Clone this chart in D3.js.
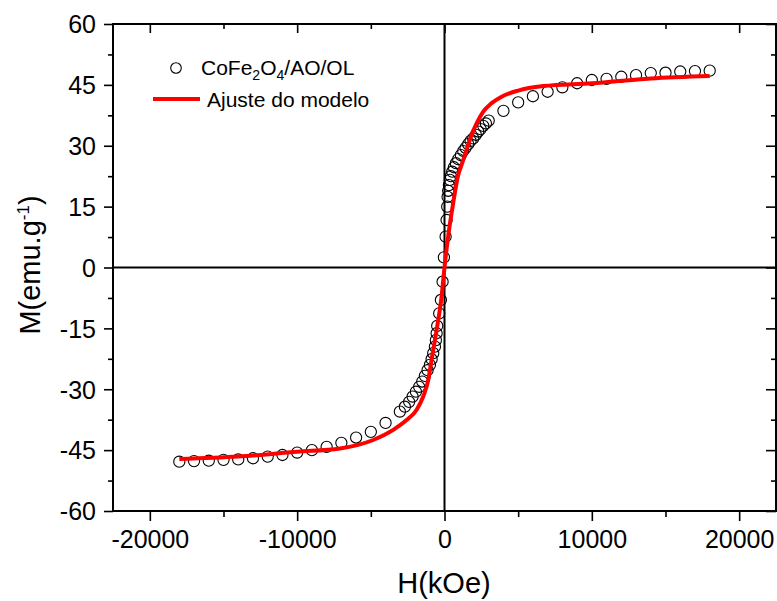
<!DOCTYPE html>
<html>
<head>
<meta charset="utf-8">
<script src="https://cdn.jsdelivr.net/npm/d3@7"></script>
<style>
  html, body { margin: 0; padding: 0; background: #fff; }
  svg { display: block; font-family: "Liberation Sans", Arial, sans-serif; }
</style>
</head>
<body>
<svg id="chart" width="777" height="601"></svg>
<script>
// ---- data ----
const dataH = [-18000,-17000,-16000,-15000,-14000,-13000,-12000,-11000,-10000,-9000,-8000,-7000,-6000,-5000,-4000,
  -3030,-2690,-2400,-2165,-1940,-1720,-1510,-1330,-1150,-990,-875,-765,-650,-585,-535,-495,-360,-245,-130,-40,
  75,140,185,210,250,300,367,435,525,640,775,930,1110,1270,1430,1610,1770,1950,2130,2290,2450,2630,2810,3000,
  4000,5000,6000,7000,8000,9000,10000,11000,12000,13000,14000,15000,16000,17000,18000];
const dataM = [-47.85,-47.7,-47.6,-47.4,-47.3,-47.0,-46.6,-46.2,-45.6,-45.0,-44.2,-43.2,-41.9,-40.5,-38.3,
  -35.5,-34.3,-33.1,-31.8,-30.6,-29.4,-28.1,-26.7,-25.3,-24.0,-22.6,-21.1,-19.5,-17.9,-16.2,-14.4,-11.3,-8.0,-3.5,2.5,
  7.6,11.7,15.0,17.4,18.9,20.3,21.6,22.5,23.6,24.7,25.7,26.7,27.7,28.7,29.5,30.4,31.2,31.8,32.7,33.5,34.1,34.9,35.5,36.2,
  38.6,40.7,42.2,43.3,44.4,45.4,46.2,46.5,47.0,47.4,47.9,48.0,48.3,48.4,48.5];

const fitH = [-18000,-14000,-10000,-7100,-4840,-3480,-2575,-1900,-1445,-1100,-880,-535,-200,0,
  250,590,930,1160,1500,1840,2180,2630,3200,3875,5000,6700,10000,14000,18000];
const fitM = [-47.2,-46.6,-45.4,-44.6,-42.5,-40.0,-37.6,-35.1,-31.8,-27.7,-22.8,-15.4,-7.2,0,
  7.7,15.9,22.8,25.3,29.0,32.7,35.5,38.4,40.5,42.1,43.6,44.7,45.4,46.6,47.2];

const xTicks = [-20000,-10000,0,10000,20000];
const yTicks = [-60,-45,-30,-15,0,15,30,45,60];
const xTitle = "H(kOe)";
const fitName = "Ajuste do modelo";

// ---- layout ----
const svg = d3.select("#chart");
const L = 113, R = 776, T = 24, B = 511;
const x = d3.scaleLinear().domain([-22500, 22500]).range([L, R]);
const y = d3.scaleLinear().domain([-60, 60]).range([B, T]);

const xMinor = d3.range(-20000, 20001, 5000).filter(v => !xTicks.includes(v));
const yMinor = d3.range(-52.5, 53, 15);

function styleAxis(g) {
  g.select(".domain").remove();
  g.selectAll(".tick line").attr("stroke", "#000").attr("stroke-width", 1.6);
  g.selectAll(".tick text").attr("fill", "#000").style("font-size", "25px")
    .style("font-family", '"Liberation Sans", Arial, sans-serif');
}

// bottom
const gB = svg.append("g").attr("transform", `translate(0,${B})`)
  .call(d3.axisBottom(x).tickValues(xTicks).tickSize(10).tickPadding(9).tickFormat(d3.format("d")));
styleAxis(gB);
const gBm = svg.append("g").attr("transform", `translate(0,${B})`)
  .call(d3.axisBottom(x).tickValues(xMinor).tickSize(6).tickFormat(""));
styleAxis(gBm);
// top (inward)
const gT = svg.append("g").attr("transform", `translate(0,${T})`)
  .call(d3.axisTop(x).tickValues(xTicks).tickSize(-9).tickFormat(""));
styleAxis(gT);
const gTm = svg.append("g").attr("transform", `translate(0,${T})`)
  .call(d3.axisTop(x).tickValues(xMinor).tickSize(-5).tickFormat(""));
styleAxis(gTm);
// left
const gL = svg.append("g").attr("transform", `translate(${L},0)`)
  .call(d3.axisLeft(y).tickValues(yTicks).tickSize(9).tickPadding(8).tickFormat(d3.format("d")));
styleAxis(gL);
gL.selectAll(".tick text").attr("dy", "0.35em");
const gLm = svg.append("g").attr("transform", `translate(${L},0)`)
  .call(d3.axisLeft(y).tickValues(yMinor).tickSize(5).tickFormat(""));
styleAxis(gLm);
// right (inward)
const gR = svg.append("g").attr("transform", `translate(${R},0)`)
  .call(d3.axisRight(y).tickValues(yTicks).tickSize(-10).tickFormat(""));
styleAxis(gR);
const gRm = svg.append("g").attr("transform", `translate(${R},0)`)
  .call(d3.axisRight(y).tickValues(yMinor).tickSize(-5).tickFormat(""));
styleAxis(gRm);

// hyphen minus like the reference
svg.selectAll(".tick text").text(function() { return d3.select(this).text().replace("−", "-"); });

// frame
svg.append("rect").attr("x", L).attr("y", T).attr("width", R - L).attr("height", B - T)
  .attr("fill", "none").attr("stroke", "#000").attr("stroke-width", 2);

// zero lines
svg.append("line").attr("x1", x(0)).attr("x2", x(0)).attr("y1", T).attr("y2", B)
  .attr("stroke", "#000").attr("stroke-width", 2);
svg.append("line").attr("x1", L).attr("x2", R).attr("y1", y(0)).attr("y2", y(0))
  .attr("stroke", "#000").attr("stroke-width", 2);

// data points
const pts = dataH.map((h, i) => [h, dataM[i]]);
svg.append("g").selectAll("circle").data(pts).join("circle")
  .attr("cx", d => x(d[0])).attr("cy", d => y(d[1])).attr("r", 5.6)
  .attr("fill", "none").attr("stroke", "#000").attr("stroke-width", 1.1);

// fit curve
const fitPts = fitH.map((h, i) => [h, fitM[i]]);
svg.append("path").datum(fitPts)
  .attr("d", d3.line().x(d => x(d[0])).y(d => y(d[1])).curve(d3.curveMonotoneX))
  .attr("fill", "none").attr("stroke", "#ff0000").attr("stroke-width", 4);

// legend
svg.append("circle").attr("cx", 176).attr("cy", 68).attr("r", 5.3)
  .attr("fill", "none").attr("stroke", "#000").attr("stroke-width", 1.1);
const t1 = svg.append("text").attr("x", 201).attr("y", 75).style("font-size", "21px").attr("fill", "#000");
t1.append("tspan").text("CoFe");
t1.append("tspan").text("2").style("font-size", "14px").attr("dy", 5);
t1.append("tspan").text("O").attr("dy", -5);
t1.append("tspan").text("4").style("font-size", "14px").attr("dy", 5);
t1.append("tspan").text("/AO/OL").attr("dy", -5);

svg.append("line").attr("x1", 153).attr("x2", 200).attr("y1", 99).attr("y2", 99)
  .attr("stroke", "#ff0000").attr("stroke-width", 4);
svg.append("text").attr("x", 207).attr("y", 107).style("font-size", "21px").attr("fill", "#000").text(fitName);

// axis titles
svg.append("text").attr("x", 444).attr("y", 593).attr("text-anchor", "middle")
  .style("font-size", "29px").attr("fill", "#000").text(xTitle);
const yt = svg.append("text").attr("transform", "translate(40,265) rotate(-90)")
  .attr("text-anchor", "middle").style("font-size", "29px").attr("fill", "#000");
yt.append("tspan").text("M(emu.g");
yt.append("tspan").text("-1").style("font-size", "17px").attr("dy", -11);
yt.append("tspan").text(")").attr("dy", 11);
</script>
</body>
</html>
